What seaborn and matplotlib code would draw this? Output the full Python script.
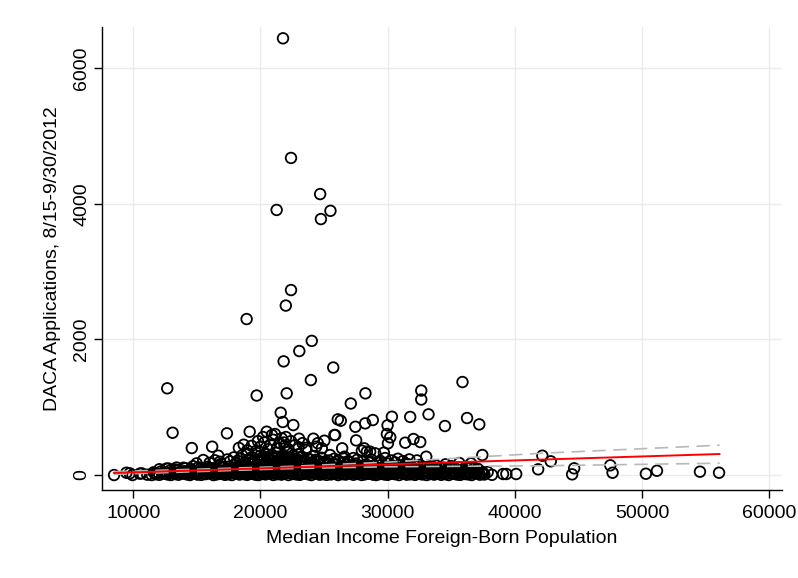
import matplotlib
matplotlib.use("Agg")
import matplotlib.pyplot as plt
import pandas as pd
import seaborn as sns

# Low-count counties forming the dense band (income in $1000s, applications)
band_a_income_k = [
    11.10, 11.45, 11.80, 12.05, 12.40, 12.70, 12.95, 13.30, 13.55, 13.90,
    14.20, 14.45, 14.80, 15.05, 15.35, 15.70, 15.95, 16.30, 16.55, 16.85,
    17.20, 17.45, 17.75, 18.10, 18.35, 18.70, 18.95, 19.25, 19.60, 19.85,
    20.15, 20.40, 20.75, 21.00, 21.30, 21.65, 21.90, 22.20, 22.50, 22.85,
    23.10, 23.40, 23.75, 24.00, 24.30, 24.65, 24.90, 25.20, 25.55, 25.80,
    26.10, 26.45, 26.70, 27.05, 27.30, 27.60, 27.95, 28.20, 28.50, 28.85,
    29.10, 29.40, 29.75, 30.00, 30.35, 30.60, 30.90, 31.25, 31.50, 31.80,
    32.15, 32.40, 32.70, 33.05, 33.30, 33.65, 33.90, 34.20, 34.55, 34.80,
    35.10, 35.45, 35.70, 36.05, 36.30, 36.60, 36.95, 37.25, 37.60, 38.20,
]
band_a_apps = [
    5, 0, 12, 3, 20, 8, 0, 15, 4, 22,
    10, 0, 18, 6, 2, 14, 25, 0, 9, 17,
    3, 11, 0, 21, 7, 13, 2, 19, 5, 0,
    16, 9, 24, 1, 12, 6, 20, 0, 15, 8,
    3, 18, 11, 0, 22, 5, 14, 2, 9, 19,
    0, 13, 7, 24, 4, 16, 1, 10, 21, 6,
    0, 15, 8, 3, 19, 12, 0, 23, 5, 11,
    2, 17, 9, 0, 14, 6, 20, 3, 12, 0,
    18, 7, 2, 15, 10, 0, 22, 5, 8, 3,
]

band_b_income_k = [
    11.60, 12.20, 12.55, 12.85, 13.15, 13.45, 13.75, 14.05, 14.35, 14.60,
    14.95, 15.20, 15.50, 15.80, 16.10, 16.40, 16.70, 17.00, 17.30, 17.60,
    17.90, 18.20, 18.50, 18.80, 19.10, 19.40, 19.70, 20.00, 20.30, 20.55,
    20.90, 21.15, 21.45, 21.75, 22.05, 22.35, 22.65, 22.95, 23.25, 23.55,
    23.85, 24.15, 24.45, 24.75, 25.05, 25.35, 25.65, 25.95, 26.25, 26.55,
    26.85, 27.15, 27.45, 27.75, 28.05, 28.35, 28.65, 28.95, 29.25, 29.55,
    29.85, 30.15, 30.45, 30.75, 31.05, 31.35, 31.65, 31.95, 32.25, 32.55,
    32.85, 33.15, 33.45, 33.75, 34.05, 34.35, 34.65, 34.95, 35.25, 35.55,
    35.85, 36.15, 36.45, 36.75, 37.05, 37.40,
]
band_b_apps = [
    40, 55, 38, 62, 47, 70, 35, 58, 44, 66,
    50, 39, 72, 45, 60, 36, 53, 68, 41, 57,
    74, 48, 63, 37, 55, 80, 46, 69, 52, 75,
    43, 61, 78, 50, 66, 40, 73, 56, 47, 70,
    59, 42, 77, 51, 64, 38, 71, 54, 45, 67,
    58, 41, 74, 49, 62, 36, 69, 53, 44, 65,
    57, 40, 72, 48, 61, 37, 68, 52, 43, 66,
    55, 39, 70, 47, 60, 36, 64, 50, 42, 58,
    46, 63, 38, 55, 44, 49,
]

band_c_income_k = [
    12.60, 13.40, 14.10, 14.70, 15.30, 15.85, 16.25, 16.75, 17.15, 17.55,
    17.95, 18.30, 18.65, 19.00, 19.30, 19.65, 19.95, 20.25, 20.50, 20.80,
    21.10, 21.40, 21.70, 22.00, 22.30, 22.60, 22.90, 23.20, 23.50, 23.80,
    24.10, 24.40, 24.70, 25.00, 25.30, 25.60, 25.90, 26.20, 26.50, 26.80,
    27.10, 27.40, 27.70, 28.00, 28.30, 28.60, 28.90, 29.20, 29.50, 29.80,
    30.10, 30.40, 30.70, 31.00, 31.30, 31.60, 31.90, 32.20, 32.50, 32.80,
    33.30, 33.80, 34.40, 35.00, 35.60, 36.20, 36.80,
]
band_c_apps = [
    95, 110, 100, 130, 105, 120, 98, 140, 112, 125,
    150, 104, 135, 118, 160, 108, 145, 128, 170, 115,
    155, 138, 102, 165, 122, 148, 110, 175, 132, 100,
    158, 120, 142, 106, 168, 126, 150, 112, 135, 160,
    118, 145, 105, 130, 155, 122, 140, 108, 150, 126,
    115, 138, 100, 145, 120, 160, 110, 130, 148, 104,
    125, 140, 108, 130, 115, 122, 100,
]

band_d_income_k = [
    11.72, 12.32, 12.67, 12.97, 13.27, 13.57, 13.87, 14.17, 14.47, 14.72,
    15.07, 15.32, 15.62, 15.92, 16.22, 16.52, 16.82, 17.12, 17.42, 17.72,
    18.02, 18.32, 18.62, 18.92, 19.22, 19.52, 19.82, 20.12, 20.42, 20.67,
    21.02, 21.27, 21.57, 21.87, 22.17, 22.47, 22.77, 23.07, 23.37, 23.67,
    23.97, 24.27, 24.57, 24.87, 25.17, 25.47, 25.77, 26.07, 26.37, 26.67,
    26.97, 27.27, 27.57, 27.87, 28.17, 28.47, 28.77, 29.07, 29.37, 29.67,
    29.97, 30.27, 30.57, 30.87, 31.17, 31.47, 31.77, 32.07, 32.37, 32.67,
    32.97, 33.27, 33.57, 33.87, 34.17, 34.47, 34.77, 35.07, 35.37, 35.67,
    35.97, 36.27, 36.57, 36.87, 37.17, 37.52,
]
band_d_apps = [
    28, 33, 22, 40, 26, 37, 30, 44, 24, 35,
    29, 42, 21, 38, 27, 45, 32, 23, 39, 31,
    25, 43, 34, 20, 41, 28, 36, 22, 44, 30,
    26, 39, 33, 24, 42, 29, 37, 21, 35, 27,
    45, 31, 23, 40, 34, 26, 38, 22, 43, 30,
    28, 36, 24, 41, 32, 20, 39, 27, 44, 33,
    25, 37, 29, 42, 23, 35, 31, 21, 40, 28,
    34, 26, 43, 30, 22, 38, 27, 41, 24, 36,
    32, 29, 25, 33, 27, 30,
]

band_e_income_k = [
    12.05, 12.75, 13.30, 13.95, 14.50, 15.10, 15.60, 16.00, 16.45, 16.90,
    17.35, 17.70, 18.05, 18.40, 18.75, 19.05, 19.35, 19.60, 19.90, 20.10,
    20.35, 20.65, 20.95, 21.20, 21.50, 21.80, 22.10, 22.40, 22.70, 23.00,
    23.30, 23.60, 23.90, 24.20, 24.55, 24.85, 25.15, 25.45, 25.75, 26.05,
    26.35, 26.65, 26.95, 27.25, 27.55, 27.85, 28.15, 28.45, 28.75, 29.05,
    29.35, 29.65, 29.95, 30.25, 30.55, 30.85, 31.15, 31.45, 31.75, 32.05,
    32.35, 32.65, 33.00, 33.55, 34.10, 34.70, 35.30, 35.90, 36.50, 37.10,
]
band_e_apps = [
    85, 96, 82, 108, 90, 112, 87, 100, 94, 115,
    83, 105, 92, 110, 86, 98, 113, 89, 102, 81,
    107, 95, 114, 88, 99, 84, 111, 93, 104, 80,
    109, 91, 101, 86, 115, 97, 83, 106, 92, 112,
    88, 103, 95, 81, 110, 90, 99, 114, 85, 107,
    96, 82, 104, 93, 111, 87, 100, 84, 108, 94,
    89, 113, 98, 86, 105, 92, 97, 83, 101, 90,
]

band_f_income_k = [
    16.00, 16.90, 17.60, 18.05, 18.40, 18.80, 19.10, 19.35, 19.55, 19.80,
    20.05, 20.25, 20.45, 20.65, 20.85, 21.05, 21.20, 21.35, 21.55, 21.70,
    21.85, 22.05, 22.25, 22.45, 22.65, 22.85, 23.05, 23.25, 23.45, 23.70,
    24.00, 24.35, 24.65, 25.00, 25.35, 25.70, 26.10, 26.50, 27.00, 27.50,
    28.00, 28.60, 29.20, 29.90, 30.60, 31.40,
]
band_f_apps = [
    180, 165, 200, 175, 240, 190, 215, 260, 185, 230,
    205, 275, 195, 250, 220, 180, 265, 210, 240, 190,
    280, 225, 200, 255, 185, 235, 210, 270, 195, 245,
    180, 225, 200, 190, 215, 175, 200, 185, 190, 170,
    195, 180, 190, 175, 185, 170,
]

# Counties with a few hundred applications
upper_income_k = [
    14.98, 15.50, 16.42, 16.68, 16.81, 17.40, 17.90, 18.20, 18.55, 18.91,
    19.20, 19.45, 19.70, 19.95, 20.15, 20.35, 20.55, 20.70, 20.90, 21.05,
    21.25, 21.40, 21.60, 21.80, 21.95, 22.15, 22.35, 22.55, 22.75, 22.95,
    23.15, 23.35, 23.58, 23.90, 24.20, 24.50, 24.80, 25.10, 25.47, 25.80,
    26.10, 26.52, 26.60, 26.90, 27.30, 27.60, 27.97, 28.36, 28.70, 29.02,
    29.40, 29.80, 30.30, 30.80, 31.20, 31.70, 32.30, 33.03, 33.53, 34.55,
    35.63, 36.55, 37.44,
]
upper_apps = [
    172, 221, 217, 285, 196, 230, 260, 210, 290, 320,
    250, 205, 324, 280, 230, 310, 265, 215, 300, 245,
    330, 270, 220, 295, 250, 340, 235, 285, 225, 305,
    260, 215, 369, 230, 280, 210, 255, 200, 295, 240,
    215, 246, 270, 205, 250, 225, 359, 344, 230, 320,
    210, 250, 215, 240, 205, 230, 215, 270, 122, 158,
    177, 172, 295,
]

mid_income_k = [
    13.09, 17.36, 19.15, 14.60, 16.20, 18.68, 18.96, 19.65, 20.49, 21.14,
    21.67, 21.59, 21.75, 22.58, 25.81, 23.03, 24.16, 25.02, 24.82, 27.52,
    28.15, 28.62, 26.42, 29.99, 29.94, 30.20, 30.02, 30.33, 31.38, 32.03,
    32.56, 31.77, 33.21, 36.24, 37.20, 34.50, 26.08, 26.31, 27.46, 28.23,
    28.83, 24.37, 25.87, 20.00, 20.30, 20.60, 20.80, 21.00, 21.30, 21.50,
    21.90, 22.20, 22.40, 22.70, 23.00, 23.30, 23.60, 20.20, 20.90, 22.00,
    19.80, 19.30, 18.30, 21.85, 24.50, 29.70,
]
mid_apps = [
    624, 615, 639, 398, 418, 447, 364, 354, 639, 605,
    541, 919, 782, 737, 590, 536, 536, 506, 394, 511,
    394, 344, 394, 733, 605, 556, 467, 860, 477, 531,
    487, 857, 895, 841, 747, 723, 821, 801, 712, 762,
    811, 418, 590, 420, 480, 380, 450, 520, 400, 470,
    430, 380, 500, 440, 410, 470, 400, 560, 590, 560,
    500, 430, 400, 480, 470, 330,
]

high_income_k = [
    21.77, 22.40, 21.27, 24.69, 24.75, 25.50, 22.40, 21.99, 18.91, 24.03,
    23.05, 21.82, 25.72, 23.96, 35.88, 12.67, 22.06, 19.70, 28.25, 32.64,
    32.64, 27.10,
]
high_apps = [
    6443, 4678, 3911, 4145, 3776, 3898, 2729, 2500, 2301, 1979,
    1829, 1677, 1586, 1401, 1372, 1279, 1205, 1173, 1205, 1246,
    1114, 1055,
]

edge_income_k = [
    8.49, 9.46, 9.72, 9.94, 10.51, 10.65, 41.83, 42.16, 42.82, 44.66,
    44.50, 47.50, 47.68, 50.30, 51.17, 54.55, 56.05, 40.10, 39.33, 39.07,
    37.86, 37.42,
]
edge_apps = [
    0, 34, 25, 0, 20, 25, 84, 285, 202, 99,
    10, 143, 34, 19, 63, 49, 34, 15, 15, 15,
    44, 25,
]

# Linear fit and its 95% confidence bounds
fit_income = [8460, 56100]
fit_apps = [30, 310]
ci_income = [8460, 22000, 30000, 42000, 56100]
ci_upper = [50, 125, 190, 320, 440]
ci_lower = [10, 93, 122, 136, 174]

x_ticks = [10000, 20000, 30000, 40000, 50000, 60000]
y_ticks = [0, 2000, 4000, 6000]

groups = [
    (band_a_income_k, band_a_apps), (band_b_income_k, band_b_apps),
    (band_c_income_k, band_c_apps), (band_d_income_k, band_d_apps),
    (band_e_income_k, band_e_apps), (band_f_income_k, band_f_apps),
    (upper_income_k, upper_apps), (mid_income_k, mid_apps),
    (high_income_k, high_apps), (edge_income_k, edge_apps),
]
frames = [pd.DataFrame({"income": [v * 1000 for v in xs], "apps": ys}) for xs, ys in groups]
df = pd.concat(frames, ignore_index=True)

sns.set_theme(style="whitegrid")
plt.rcParams["font.family"] = ["Liberation Sans", "DejaVu Sans"]

fig = plt.figure(figsize=(7.98, 5.78), dpi=100)
ax = fig.add_axes([102 / 798, 88 / 578, 680 / 798, 463 / 578])

sns.scatterplot(data=df, x="income", y="apps", ax=ax, s=58, marker="o",
                linewidth=1.3, legend=False)
pts = ax.collections[0]
pts.set_facecolor("none")
pts.set_edgecolor("black")
pts.set_linewidth(1.3)

sns.lineplot(x=ci_income, y=ci_upper, ax=ax, color="#b8b8b8", lw=1.2,
             linestyle=(0, (8, 4.5)), estimator=None)
sns.lineplot(x=ci_income, y=ci_lower, ax=ax, color="#b8b8b8", lw=1.2,
             linestyle=(0, (8, 4.5)), estimator=None)
sns.lineplot(x=fit_income, y=fit_apps, ax=ax, color="#ff0000", lw=1.4,
             estimator=None)

ax.set_xlim(7540, 61000)
ax.set_ylim(-221, 6610)
ax.set_xticks(x_ticks)
ax.set_yticks(y_ticks)
ax.set_xticklabels([str(t) for t in x_ticks])
ax.set_yticklabels([str(t) for t in y_ticks])

ax.grid(True, color="#ebebeb", lw=1.0)
ax.set_axisbelow(True)
for side in ("top", "right"):
    ax.spines[side].set_visible(False)
for side in ("left", "bottom"):
    ax.spines[side].set_color("black")
    ax.spines[side].set_linewidth(1.0)

ax.tick_params(axis="both", which="major", bottom=True, left=True,
               direction="out", length=5.5, width=1.0, color="black",
               labelsize=14, labelcolor="black")
ax.tick_params(axis="x", pad=5.3)
ax.tick_params(axis="y", pad=3, labelrotation=90)
plt.setp(ax.get_yticklabels(), va="center")

ax.set_xlabel("Median Income Foreign-Born Population", fontsize=14, color="black")
ax.set_ylabel("DACA Applications, 8/15-9/30/2012", fontsize=14, color="black")
ax.xaxis.set_label_coords(0.5, -0.0864)
ax.yaxis.set_label_coords(-0.0603, 0.5)

fig.savefig("out.png", dpi=100, facecolor="white")
